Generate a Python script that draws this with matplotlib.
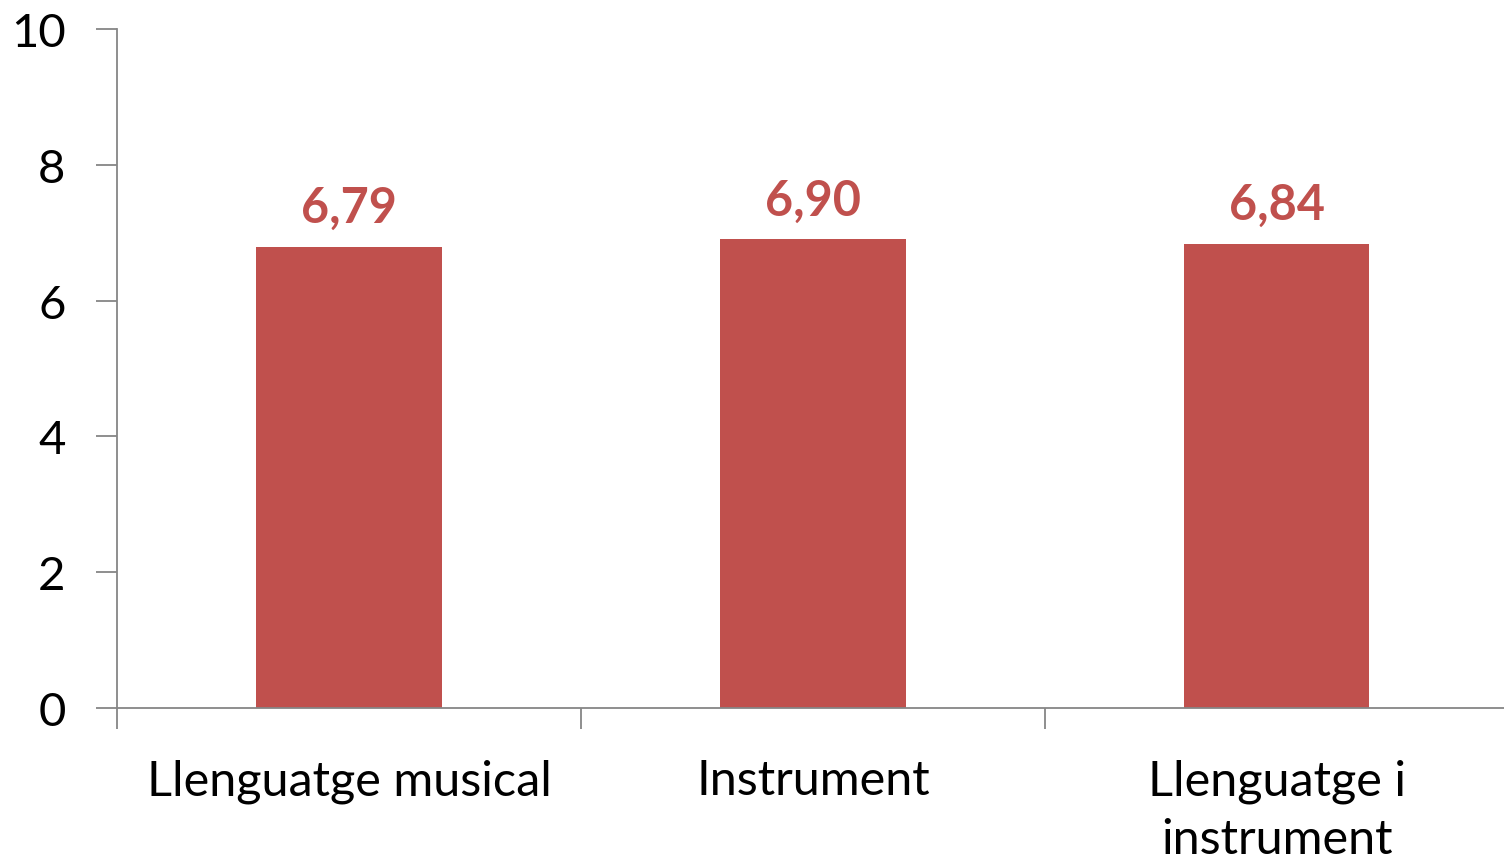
import matplotlib
matplotlib.use("Agg")
import matplotlib.pyplot as plt

categories = ["Llenguatge musical", "Instrument", "Llenguatge i\ninstrument"]
values = [6.79, 6.90, 6.84]
value_labels = ["6,79", "6,90", "6,84"]
yticks = [0, 2, 4, 6, 8, 10]

plt.rcParams['font.family'] = ['Lato', 'DejaVu Sans']

bar_color = '#C0504D'
axis_color = '#868686'

fig = plt.figure(figsize=(15.04, 8.62), dpi=100)
ax = fig.add_axes([117 / 1504, 1 - 709 / 862, 1 - 117 / 1504, (709 - 30) / 862])

x = range(len(categories))
ax.bar(x, values, width=0.4, color=bar_color, zorder=2)

for i, v in enumerate(values):
    ax.text(i, v + 0.25, value_labels[i], ha='center', va='bottom',
            fontsize=35, fontweight='bold', color=bar_color)

ax.set_xlim(-0.5, 2.49)
ax.set_ylim(0, 10)
ax.set_yticks(yticks)
ax.set_yticklabels([str(t) for t in yticks], fontsize=34)

# category labels sit between the boundary ticks
ax.set_xticks([-0.5, 0.5, 1.5])
ax.set_xticklabels([])
ax.tick_params(axis='x', length=15, width=1.3, color=axis_color, direction='out')
ax.tick_params(axis='y', length=15, width=1.3, color=axis_color, direction='out', pad=22)
for i, c in enumerate(categories):
    ax.text(i, -0.74, c, ha='center', va='top', fontsize=35,
            transform=ax.transData, linespacing=1.4)

for side in ['top', 'right']:
    ax.spines[side].set_visible(False)
for side in ['left', 'bottom']:
    ax.spines[side].set_color(axis_color)
    ax.spines[side].set_linewidth(1.3)

fig.savefig("out.png", dpi=100)
